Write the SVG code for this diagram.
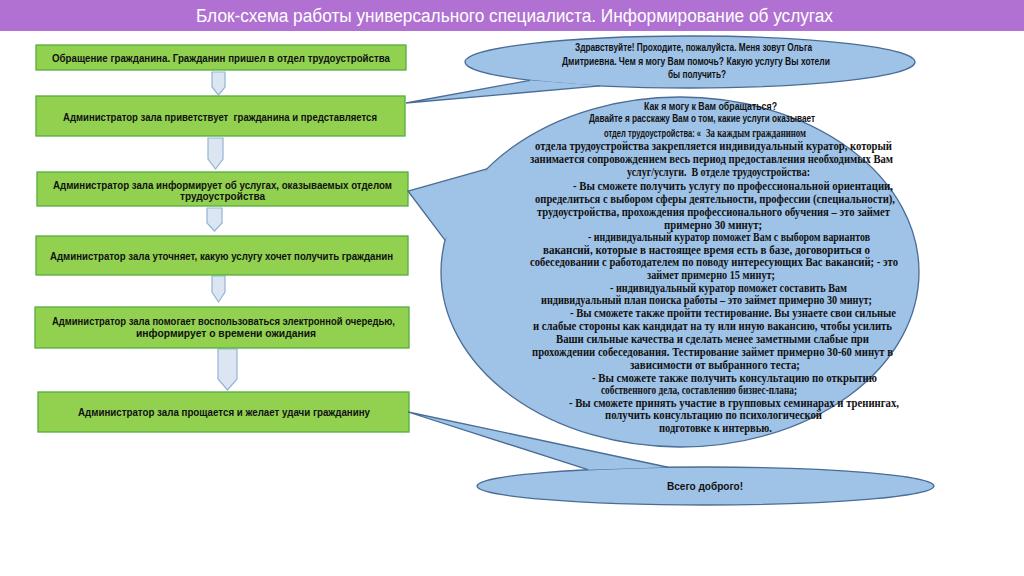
<svg xmlns="http://www.w3.org/2000/svg" width="1024" height="576" viewBox="0 0 1024 576">
<style>
.box{fill:#92D050;stroke:#52AE3E;stroke-width:1.3}
.arr{fill:#DCE6F2;stroke:#95B3D7;stroke-width:1.2}
.call{fill:#9FC2E7;stroke:#4A6D96;stroke-width:1.3}
.tri{fill:#9FC2E7;stroke:none}
.ln{fill:none;stroke:#4A6D96;stroke-width:1.3;stroke-linejoin:miter}
.bt{font-family:"Liberation Sans",Arial,sans-serif;font-weight:bold;font-size:10.5px;fill:#111}
.ct{font-family:"Liberation Sans",Arial,sans-serif;font-weight:bold;font-size:11px;fill:#111}
.st{font-family:"Liberation Serif","Times New Roman",serif;font-weight:bold;font-size:11.5px;fill:#111}
</style>
<rect x="0" y="0" width="1024" height="576" fill="#FFFFFF"/>
<g id="title">
<rect x="0" y="0" width="1024" height="31" fill="#B071D3"/>
<text x="196" y="22" textLength="637" lengthAdjust="spacingAndGlyphs" font-family="Liberation Sans, Arial, sans-serif" font-size="18" fill="#FFFFFF">Блок-схема работы универсального специалиста. Информирование об услугах</text>
</g>
<g id="connectors">
<path class="arr" d="M212,72 H225 V87 L218.5,95 L212,87 Z"/>
<path class="arr" d="M208,138 H223 V159 L215.5,169 L208,159 Z"/>
<path class="arr" d="M207,208 H222 V223 L214.5,231 L207,223 Z"/>
<path class="arr" d="M212,276 H225 V292 L218.5,302 L212,292 Z"/>
<path class="arr" d="M218,349 H237 V379 L227.5,390 L218,379 Z"/>
</g>
<g id="node1">
<rect class="box" x="36" y="45" width="370" height="25"/>
<text class="bt" x="52" y="61.5" textLength="338" lengthAdjust="spacingAndGlyphs">Обращение гражданина. Гражданин пришел в отдел трудоустройства</text>
</g>
<g id="node2">
<rect class="box" x="36" y="96" width="369" height="40"/>
<text class="bt" x="63" y="120.5" textLength="314" lengthAdjust="spacingAndGlyphs" xml:space="preserve">Администратор зала приветствует  гражданина и представляется</text>
</g>
<g id="node3">
<rect class="box" x="37" y="172" width="371" height="34"/>
<text class="bt" x="53" y="188.5" textLength="339" lengthAdjust="spacingAndGlyphs">Администратор зала информирует об услугах, оказываемых отделом</text>
<text class="bt" x="180" y="200" textLength="85" lengthAdjust="spacingAndGlyphs">трудоустройства</text>
</g>
<g id="node4">
<rect class="box" x="36" y="236" width="372" height="39"/>
<text class="bt" x="50" y="259.5" textLength="343" lengthAdjust="spacingAndGlyphs">Администратор зала уточняет, какую услугу хочет получить гражданин</text>
</g>
<g id="node5">
<rect class="box" x="35" y="307" width="374" height="41"/>
<text class="bt" x="52" y="325" textLength="343" lengthAdjust="spacingAndGlyphs">Администратор зала помогает воспользоваться электронной очередью,</text>
<text class="bt" x="136" y="337" textLength="180" lengthAdjust="spacingAndGlyphs">информирует о времени ожидания</text>
</g>
<g id="node6">
<rect class="box" x="38" y="392" width="371" height="40"/>
<text class="bt" x="78" y="415.5" textLength="292" lengthAdjust="spacingAndGlyphs">Администратор зала прощается и желает удачи гражданину</text>
</g>
<g id="callout1">
<ellipse class="call" cx="690" cy="62" rx="225" ry="26"/>
<polygon class="tri" points="406,103 530,80.28 600,85.83"/>
<path class="ln" d="M530,80.28 L406,103 L600,85.83"/>
<text class="ct" x="575" y="51" textLength="237" lengthAdjust="spacingAndGlyphs">Здравствуйте! Проходите, пожалуйста. Меня зовут Ольга</text>
<text class="ct" x="562" y="64.5" textLength="268" lengthAdjust="spacingAndGlyphs">Дмитриевна. Чем я могу Вам помочь? Какую услугу Вы хотели</text>
<text class="ct" x="668" y="78" textLength="58" lengthAdjust="spacingAndGlyphs">бы получить?</text>
</g>
<g id="callout2">
<ellipse class="call" cx="680" cy="272" rx="239" ry="175"/>
<polygon class="tri" points="408,191 487,168.8 445,240.1"/>
<path class="ln" d="M487,168.8 L408,191 L445,240.1"/>
<text class="ct" x="644" y="110" textLength="133" lengthAdjust="spacingAndGlyphs">Как я могу к Вам обращаться?</text>
<text class="ct" x="589" y="122" textLength="226" lengthAdjust="spacingAndGlyphs">Давайте я расскажу Вам о том, какие услуги оказывает</text>
<text class="ct" x="604" y="136.5" textLength="97" lengthAdjust="spacingAndGlyphs">отдел трудоустройства: «</text>
<text class="st" x="706" y="137" textLength="100" lengthAdjust="spacingAndGlyphs">За каждым гражданином</text>
<text class="st" x="535" y="150" textLength="357" lengthAdjust="spacingAndGlyphs">отдела трудоустройства закрепляется индивидуальный куратор, который</text>
<text class="st" x="530" y="163" textLength="363" lengthAdjust="spacingAndGlyphs">занимается сопровождением весь период предоставления необходимых Вам</text>
<text class="st" x="627" y="176" textLength="183" lengthAdjust="spacingAndGlyphs" xml:space="preserve">услуг/услуги.  В отделе трудоустройства:</text>
<text class="st" x="573" y="190" textLength="320" lengthAdjust="spacingAndGlyphs">- Вы сможете получить услугу по профессиональной ориентации,</text>
<text class="st" x="535" y="203" textLength="360" lengthAdjust="spacingAndGlyphs">определиться с выбором сферы деятельности, профессии (специальности),</text>
<text class="st" x="537" y="216" textLength="353" lengthAdjust="spacingAndGlyphs">трудоустройства, прохождения профессионального обучения – это займет</text>
<text class="st" x="664" y="229" textLength="98" lengthAdjust="spacingAndGlyphs">примерно 30 минут;</text>
<text class="st" x="588" y="241" textLength="282" lengthAdjust="spacingAndGlyphs">- индивидуальный куратор поможет Вам с выбором вариантов</text>
<text class="st" x="543" y="254" textLength="327" lengthAdjust="spacingAndGlyphs">вакансий, которые в настоящее время есть в базе, договориться о</text>
<text class="st" x="530" y="266" textLength="368" lengthAdjust="spacingAndGlyphs">собеседовании с работодателем по поводу интересующих Вас вакансий; - это</text>
<text class="st" x="647" y="279" textLength="128" lengthAdjust="spacingAndGlyphs">займет примерно 15 минут;</text>
<text class="st" x="610" y="292" textLength="237" lengthAdjust="spacingAndGlyphs">- индивидуальный куратор поможет составить Вам</text>
<text class="st" x="541" y="304" textLength="331" lengthAdjust="spacingAndGlyphs">индивидуальный план поиска работы – это займет примерно 30 минут;</text>
<text class="st" x="570" y="317" textLength="326" lengthAdjust="spacingAndGlyphs">- Вы сможете также пройти тестирование. Вы узнаете свои сильные</text>
<text class="st" x="533" y="330" textLength="359" lengthAdjust="spacingAndGlyphs">и слабые стороны как кандидат на ту или иную вакансию, чтобы усилить</text>
<text class="st" x="556" y="343" textLength="313" lengthAdjust="spacingAndGlyphs">Ваши сильные качества и сделать менее заметными слабые при</text>
<text class="st" x="532" y="356" textLength="361" lengthAdjust="spacingAndGlyphs">прохождении собеседования. Тестирование займет примерно 30-60 минут в</text>
<text class="st" x="630" y="369" textLength="170" lengthAdjust="spacingAndGlyphs">зависимости от выбранного теста;</text>
<text class="st" x="592" y="382" textLength="285" lengthAdjust="spacingAndGlyphs">- Вы сможете также получить консультацию по открытию</text>
<text class="st" x="601" y="394" textLength="196" lengthAdjust="spacingAndGlyphs">собственного дела, составлению бизнес-плана;</text>
<text class="st" x="569" y="407" textLength="330" lengthAdjust="spacingAndGlyphs">- Вы сможете принять участие в групповых семинарах и тренингах,</text>
<text class="st" x="605" y="419" textLength="217" lengthAdjust="spacingAndGlyphs">получить консультацию по психологической</text>
<text class="st" x="659" y="432" textLength="113" lengthAdjust="spacingAndGlyphs">подготовке к интервью.</text>
</g>
<g id="callout3">
<ellipse class="call" cx="705.5" cy="486" rx="228.5" ry="19"/>
<polygon class="tri" points="408,412 588,469.7 668,467.26"/>
<path class="ln" d="M588,469.7 L408,412 L668,467.26"/>
<text class="ct" x="667" y="490" textLength="76" lengthAdjust="spacingAndGlyphs">Всего доброго!</text>
</g>
</svg>
